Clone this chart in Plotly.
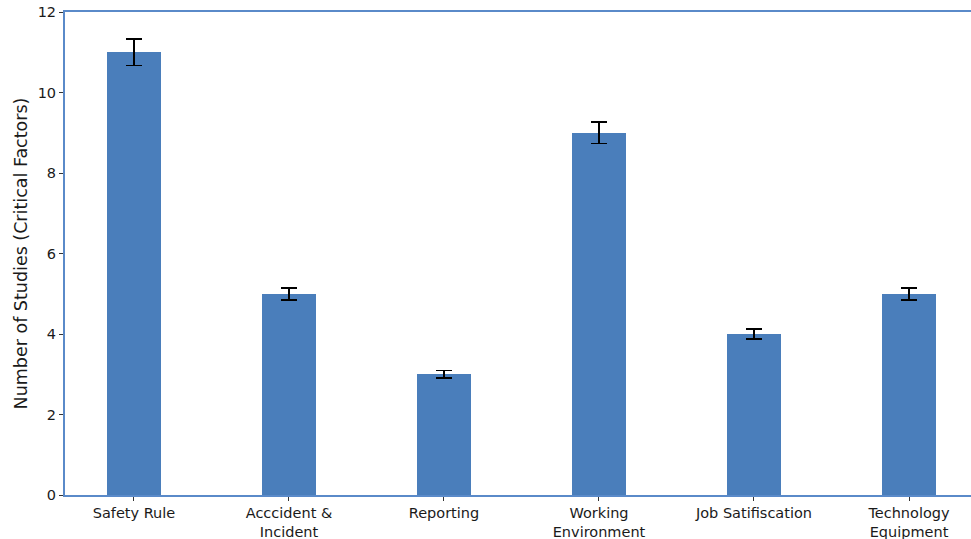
import plotly.graph_objects as go

categories = ["Safety Rule", "Acccident &<br>Incident", "Reporting", "Working<br>Environment", "Job Satifiscation", "Technology<br>Equipment"]
values = [11, 5, 3, 9, 4, 5]
errors = [0.33, 0.15, 0.09, 0.27, 0.12, 0.15]

fig = go.Figure()
fig.add_trace(go.Bar(
    x=list(range(len(categories))), y=values,
    width=0.35,
    marker=dict(color="#4a7ebb", line=dict(width=0)),
    error_y=dict(type="data", array=errors, visible=True, color="black", thickness=1.6, width=8),
))
fig.update_layout(
    width=971, height=539,
    margin=dict(l=65, r=0, t=12, b=44),
    plot_bgcolor="white", paper_bgcolor="white",
    font=dict(family="DejaVu Sans", size=14.5, color="#1a1a1a"),
    showlegend=False,
    bargap=0,
)
fig.update_xaxes(
    range=[-0.445, 5.4],
    tickmode="array", tickvals=list(range(len(categories))), ticktext=categories,
    showline=True, linecolor="#5a8ac9", linewidth=2, mirror=True,
    ticks="outside", ticklen=4, tickcolor="#333", showgrid=False, zeroline=False,
    tickfont=dict(size=14.5),
)
fig.update_yaxes(
    range=[0, 12], tickvals=[0, 2, 4, 6, 8, 10, 12],
    showline=True, linecolor="#5a8ac9", linewidth=2, mirror=False,
    ticks="outside", ticklen=4, tickcolor="#333", showgrid=False, zeroline=False,
    title=dict(text="Number of Studies (Critical Factors)", font=dict(size=17.5), standoff=6),
    tickfont=dict(size=14.5),
)
fig.write_html("out.html")
